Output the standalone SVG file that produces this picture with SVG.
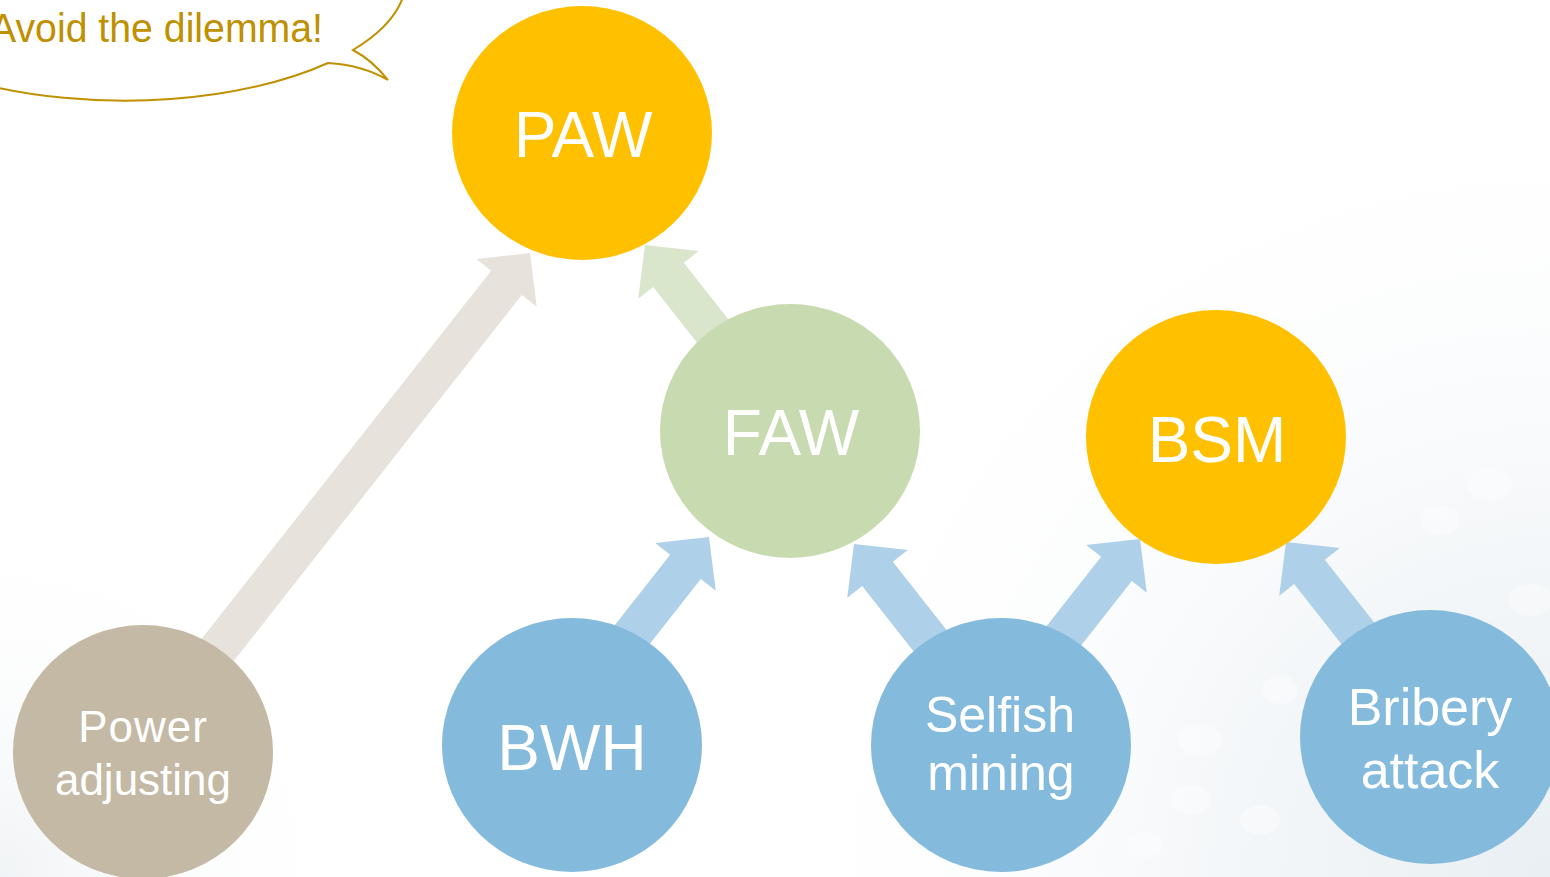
<svg xmlns="http://www.w3.org/2000/svg" width="1550" height="877" viewBox="0 0 1550 877">
  <defs>
    <radialGradient id="haze" cx="1550" cy="877" r="820" gradientUnits="userSpaceOnUse">
      <stop offset="0" stop-color="#E9EFF3"/>
      <stop offset="0.4" stop-color="#F4F7F9"/>
      <stop offset="1" stop-color="#FFFFFF" stop-opacity="0"/>
    </radialGradient>
    <radialGradient id="haze2" cx="0" cy="877" r="380" gradientUnits="userSpaceOnUse">
      <stop offset="0" stop-color="#F1F4F6"/>
      <stop offset="1" stop-color="#FFFFFF" stop-opacity="0"/>
    </radialGradient>
  </defs>
  <style>
    .bg-dot { fill: #FFFFFF; opacity: 0.35; }
    .arrow-tan { fill: #E7E3DC; }
    .arrow-green { fill: #DAE6CB; }
    .arrow-blue { fill: #AED0E8; }
    .yellow { fill: #FFC000; }
    .green { fill: #C8DAB0; }
    .blue { fill: #84BADC; }
    .tan { fill: #C4B9A5; }
    .label { font-family: "Liberation Sans", Arial, sans-serif; fill: #FFFFFF; text-anchor: middle; }
    .big { font-size: 64px; }
    .callout-text { font-family: "Liberation Sans", Arial, sans-serif; font-size: 40px; fill: #BF9000; }
  </style>

  <!-- background -->
  <rect x="0" y="0" width="1550" height="877" fill="#FFFFFF"/>
  <rect x="0" y="0" width="1550" height="877" fill="url(#haze)"/>
  <rect x="0" y="0" width="1550" height="877" fill="url(#haze2)"/>
  <g id="bokeh">
    <ellipse class="bg-dot" cx="1490" cy="485" rx="22" ry="16"/>
    <ellipse class="bg-dot" cx="1440" cy="520" rx="20" ry="15"/>
    <ellipse class="bg-dot" cx="1530" cy="600" rx="22" ry="16"/>
    <ellipse class="bg-dot" cx="1200" cy="740" rx="22" ry="16"/>
    <ellipse class="bg-dot" cx="1190" cy="800" rx="20" ry="15"/>
    <ellipse class="bg-dot" cx="1260" cy="820" rx="20" ry="15"/>
    <ellipse class="bg-dot" cx="1145" cy="845" rx="18" ry="13"/>
    <ellipse class="bg-dot" cx="1280" cy="690" rx="18" ry="14"/>
  </g>

  <!-- speech bubble -->
  <g id="callout">
    <path d="M353,50 A281.8,122 0 1 0 328,63 Q362,65 388,80 Q372,60 353,50 Z" fill="#FFFFFF" stroke="#BF9000" stroke-width="2"/>
    <text class="callout-text" x="-10" y="42" textLength="333" lengthAdjust="spacingAndGlyphs">Avoid the dilemma!</text>
  </g>

  <!-- block arrows: local shape points along +x with its tip at the origin -->
  <g id="connectors">
    <polygon class="arrow-tan" transform="translate(530,253) rotate(-51.8)" points="0,0 -38,-38.5 -38,-19.5 -630,-19.5 -630,19.5 -38,19.5 -38,38.5"/>
    <polygon class="arrow-green" transform="translate(645,245) rotate(-128.2)" points="0,0 -38,-38.5 -38,-19.5 -236,-19.5 -236,19.5 -38,19.5 -38,38.5"/>
    <polygon class="arrow-blue" transform="translate(709,537) rotate(-51.8)" points="0,0 -38,-38.5 -38,-19.5 -200,-19.5 -200,19.5 -38,19.5 -38,38.5"/>
    <polygon class="arrow-blue" transform="translate(854,544) rotate(-128.2)" points="0,0 -38,-38.5 -38,-19.5 -200,-19.5 -200,19.5 -38,19.5 -38,38.5"/>
    <polygon class="arrow-blue" transform="translate(1140,539) rotate(-51.8)" points="0,0 -38,-38.5 -38,-19.5 -200,-19.5 -200,19.5 -38,19.5 -38,38.5"/>
    <polygon class="arrow-blue" transform="translate(1286,542) rotate(-128.2)" points="0,0 -38,-38.5 -38,-19.5 -200,-19.5 -200,19.5 -38,19.5 -38,38.5"/>
  </g>

  <g id="node-paw">
    <ellipse class="yellow" cx="582" cy="133" rx="130" ry="127"/>
    <text class="label big" x="583" y="157">PAW</text>
  </g>

  <g id="node-faw">
    <ellipse class="green" cx="790" cy="431" rx="130" ry="127"/>
    <text class="label big" x="791" y="455">FAW</text>
  </g>

  <g id="node-bsm">
    <ellipse class="yellow" cx="1216" cy="437" rx="130" ry="127"/>
    <text class="label big" x="1217" y="462">BSM</text>
  </g>

  <g id="node-power">
    <ellipse class="tan" cx="143" cy="752" rx="130" ry="127"/>
    <text class="label" font-size="44" x="143" y="742" letter-spacing="1">Power</text>
    <text class="label" font-size="44" x="143" y="795">adjusting</text>
  </g>

  <g id="node-bwh">
    <ellipse class="blue" cx="572" cy="745" rx="130" ry="127"/>
    <text class="label big" x="572" y="770">BWH</text>
  </g>

  <g id="node-selfish">
    <ellipse class="blue" cx="1001" cy="745" rx="130" ry="127"/>
    <text class="label" font-size="50" x="1000" y="732">Selfish</text>
    <text class="label" font-size="50" x="1001" y="790">mining</text>
  </g>

  <g id="node-bribery">
    <ellipse class="blue" cx="1430" cy="737" rx="130" ry="127"/>
    <text class="label" font-size="52" x="1430" y="725">Bribery</text>
    <text class="label" font-size="52" x="1430" y="788">attack</text>
  </g>
</svg>
